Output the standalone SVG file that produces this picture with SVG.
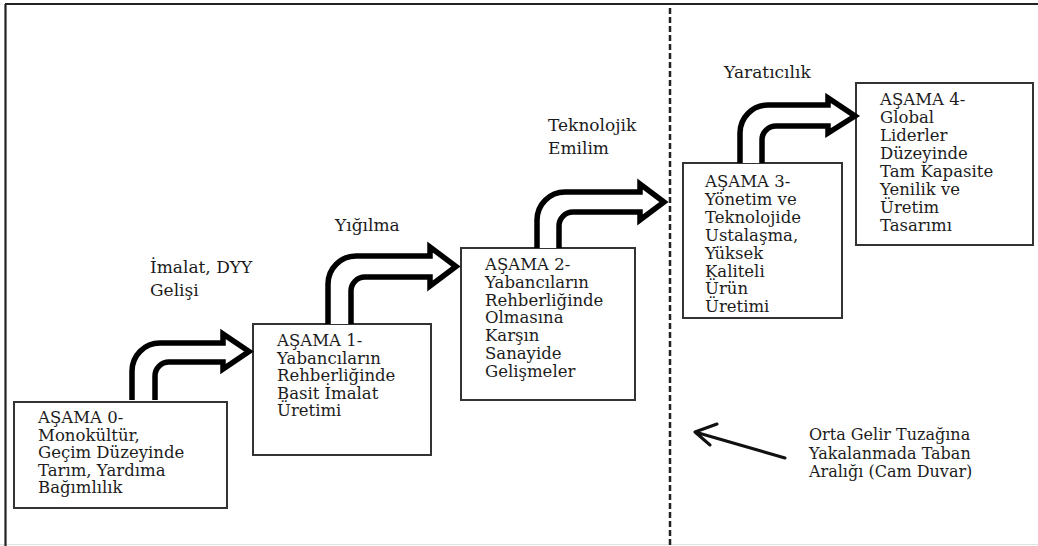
<svg xmlns="http://www.w3.org/2000/svg" width="1038" height="546" viewBox="0 0 1038 546">
<defs>
<style>
.frame{stroke:#222;stroke-width:2.2;fill:none}
.wall{stroke:#222;stroke-width:2.5;stroke-dasharray:6 3;fill:none}
.box{fill:#fff;stroke:#333;stroke-width:2}
.arr{fill:#fff;stroke:#000;stroke-width:5.5;stroke-linejoin:miter}
.bt{font-family:"DejaVu Serif","Liberation Serif",serif;font-size:16.5px;fill:#1c1c1c}
.lbl{font-family:"DejaVu Serif","Liberation Serif",serif;font-size:17px;fill:#1c1c1c}
.note{font-family:"DejaVu Serif","Liberation Serif",serif;font-size:16px;fill:#1c1c1c}
.ptr{stroke:#111;stroke-width:3;fill:none;stroke-linecap:round;stroke-linejoin:round}
</style>
</defs>
<rect width="1038" height="546" fill="#fff"/>
<line x1="0" y1="544.5" x2="1038" y2="544.5" stroke="#e2e2e2" stroke-width="1"/>
<g id="frame">
<line class="frame" x1="5" y1="4" x2="1038" y2="4"/>
<line class="frame" x1="5.5" y1="4" x2="5.5" y2="546"/>
<line class="wall" x1="670" y1="8" x2="670" y2="546"/>
</g>
<g id="node0">
<rect class="box" x="14" y="402" width="213" height="106"/>
<text class="bt" x="38" y="423"><tspan x="38">AŞAMA 0-</tspan><tspan x="38" dy="17.5">Monokültür,</tspan><tspan x="38" dy="17.5">Geçim Düzeyinde</tspan><tspan x="38" dy="17.5">Tarım, Yardıma</tspan><tspan x="38" dy="17.5">Bağımlılık</tspan></text>
</g>
<g id="node1">
<rect class="box" x="253" y="324" width="178" height="131"/>
<text class="bt" x="277" y="346"><tspan x="277">AŞAMA 1-</tspan><tspan x="277" dy="17.5">Yabancıların</tspan><tspan x="277" dy="17.5">Rehberliğinde</tspan><tspan x="277" dy="17.5">Basit İmalat</tspan><tspan x="277" dy="17.5">Üretimi</tspan></text>
</g>
<g id="node2">
<rect class="box" x="461" y="248" width="174" height="152"/>
<text class="bt" x="485" y="270"><tspan x="485">AŞAMA 2-</tspan><tspan x="485" dy="17.8">Yabancıların</tspan><tspan x="485" dy="17.8">Rehberliğinde</tspan><tspan x="485" dy="17.8">Olmasına</tspan><tspan x="485" dy="17.8">Karşın</tspan><tspan x="485" dy="17.8">Sanayide</tspan><tspan x="485" dy="17.8">Gelişmeler</tspan></text>
</g>
<g id="node3">
<rect class="box" x="683" y="163" width="159" height="155"/>
<text class="bt" x="705" y="187"><tspan x="705">AŞAMA 3-</tspan><tspan x="705" dy="17.9">Yönetim ve</tspan><tspan x="705" dy="17.9">Teknolojide</tspan><tspan x="705" dy="17.9">Ustalaşma,</tspan><tspan x="705" dy="17.9">Yüksek</tspan><tspan x="705" dy="17.9">Kaliteli</tspan><tspan x="705" dy="17.9">Ürün</tspan><tspan x="705" dy="17.9">Üretimi</tspan></text>
</g>
<g id="node4">
<rect class="box" x="856" y="83" width="177" height="162"/>
<text class="bt" x="880" y="105"><tspan x="880">AŞAMA 4-</tspan><tspan x="880" dy="18">Global</tspan><tspan x="880" dy="18">Liderler</tspan><tspan x="880" dy="18">Düzeyinde</tspan><tspan x="880" dy="18">Tam Kapasite</tspan><tspan x="880" dy="18">Yenilik ve</tspan><tspan x="880" dy="18">Üretim</tspan><tspan x="880" dy="18">Tasarımı</tspan></text>
</g>
<g id="connectors">
<path class="arr" d="M132 400 V371 A28 28 0 0 1 160 343 H223 V334 L249 351.5 L223 369 V362 H169 A14 14 0 0 0 155 376 V400"/>
<path class="arr" d="M328 324 V284 A28 28 0 0 1 356 256 H430 V247 L456 266.5 L430 286 V277 H365 A14 14 0 0 0 351 291 V324"/>
<path class="arr" d="M537 248 V220 A28 28 0 0 1 565 192 H640 V184 L664 202 L640 220 V212 H573 A14 14 0 0 0 559 226 V248"/>
<path class="arr" d="M740 163 V133 A28 28 0 0 1 768 105 H828 V98 L855 116 L828 133 V126 H776 A14 14 0 0 0 762 140 V163"/>
<path class="ptr" d="M785 458 L695 432 M717 424 L695 432 L710 445"/>
</g>
<g id="labels">
<text class="lbl" x="150" y="273"><tspan x="150">İmalat, DYY</tspan><tspan x="150" dy="23">Gelişi</tspan></text>
<text class="lbl" x="335" y="231">Yığılma</text>
<text class="lbl" x="548" y="131"><tspan x="548">Teknolojik</tspan><tspan x="548" dy="23">Emilim</tspan></text>
<text class="lbl" x="724" y="78">Yaratıcılık</text>
<text class="note" x="809" y="440"><tspan x="809">Orta Gelir Tuzağına</tspan><tspan x="809" dy="18.5">Yakalanmada Taban</tspan><tspan x="809" dy="18.5">Aralığı (Cam Duvar)</tspan></text>
</g>
</svg>
